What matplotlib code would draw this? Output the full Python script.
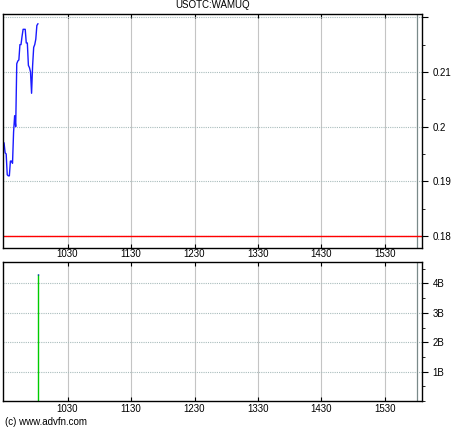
import numpy as np
import matplotlib
matplotlib.use('Agg')
import matplotlib.pyplot as plt
from matplotlib.ticker import FixedLocator, FixedFormatter, MultipleLocator

plt.rcParams['font.family'] = ['Liberation Sans', 'DejaVu Sans']

# 가격 데이터 (09:30 부터 분 단위)
price_minutes = np.arange(0, 33) + 570
prices = [0.1970, 0.1952, 0.1950, 0.1912, 0.1910, 0.1910, 0.1937, 0.1937,
          0.1933, 0.1990, 0.2020, 0.2000, 0.2115, 0.2120, 0.2122, 0.2150,
          0.2150, 0.2165, 0.2178, 0.2178, 0.2178, 0.2153, 0.2153, 0.2112,
          0.2108, 0.2100, 0.2061, 0.2112, 0.2145, 0.2150, 0.2160, 0.2185,
          0.2188]
prev_close = 0.18

# 거래량 데이터
vol_minutes = [602]
volumes = [4.32]  # 단위 B

# 축 눈금
time_ticks = [630, 690, 750, 810, 870, 930]
time_labels = ['1030', '1130', '1230', '1330', '1430', '1530']
price_ticks = [0.18, 0.19, 0.20, 0.21, 0.22]
price_labels = ['0.18', '0.19', '0.2', '0.21', '']
vol_ticks = [1, 2, 3, 4]
vol_labels = ['1B', '2B', '3B', '4B']
close_time = 960

W, H = 460, 430
fig = plt.figure(figsize=(W / 100, H / 100), dpi=100)

def box(l, t, r, b):
    return [l / W, 1 - b / H, (r - l) / W, (b - t) / H]

ax1 = fig.add_axes(box(3, 14, 422, 248))
ax2 = fig.add_axes(box(3, 262, 422, 401))

for ax in (ax1, ax2):
    ax.set_xlim(569, 965)
    ax.xaxis.set_major_locator(FixedLocator(time_ticks))
    ax.yaxis.tick_right()
    ax.tick_params(axis='x', direction='in', length=3, top=True, bottom=True,
                   labelsize=7)
    ax.tick_params(axis='y', which='both', direction='out', labelsize=7,
                   right=True, left=False)
    ax.tick_params(axis='y', which='major', length=4)
    ax.tick_params(axis='y', which='minor', length=2)
    ax.grid(True, axis='x', color='#c4c4c4', lw=0.8)
    ax.grid(True, axis='y', which='major', color='#a9bcbc', lw=0.8,
            linestyle=(0, (1, 1)))
    ax.axvline(close_time, color='#7a8a8a', lw=0.9)
    for s in ax.spines.values():
        s.set_linewidth(1)
    ax.set_axisbelow(True)

# 위 패널: 가격
ax1.plot(price_minutes, prices, color='#1a1aff', lw=1)
ax1.axhline(prev_close, color='red', lw=1)
ax1.set_ylim(0.1778, 0.2206)
ax1.yaxis.set_major_locator(FixedLocator(price_ticks))
ax1.yaxis.set_major_formatter(FixedFormatter(price_labels))
ax1.yaxis.set_minor_locator(MultipleLocator(0.005))
ax1.tick_params(axis='x', labelbottom=False)
ax1.set_title('USOTC:WAMUQ', fontsize=7, pad=4)

# 아래 패널: 거래량
ax2.vlines(vol_minutes, 0, volumes, color='#00cc00', lw=1)
ax2.vlines(vol_minutes, [v - 0.03 for v in volumes], volumes, color='blue', lw=1)
ax2.set_ylim(0, 4.73)
ax2.yaxis.set_major_locator(FixedLocator(vol_ticks))
ax2.yaxis.set_major_formatter(FixedFormatter(vol_labels))
ax2.yaxis.set_minor_locator(MultipleLocator(0.5))
ax2.set_xticklabels(time_labels)
ax2.tick_params(axis='x', labeltop=True, labelbottom=True, pad=2)

fig.text(5 / W, 1 - 422 / H, '(c) www.advfn.com', fontsize=7, va='center')

fig.savefig('out.png', dpi=100)
